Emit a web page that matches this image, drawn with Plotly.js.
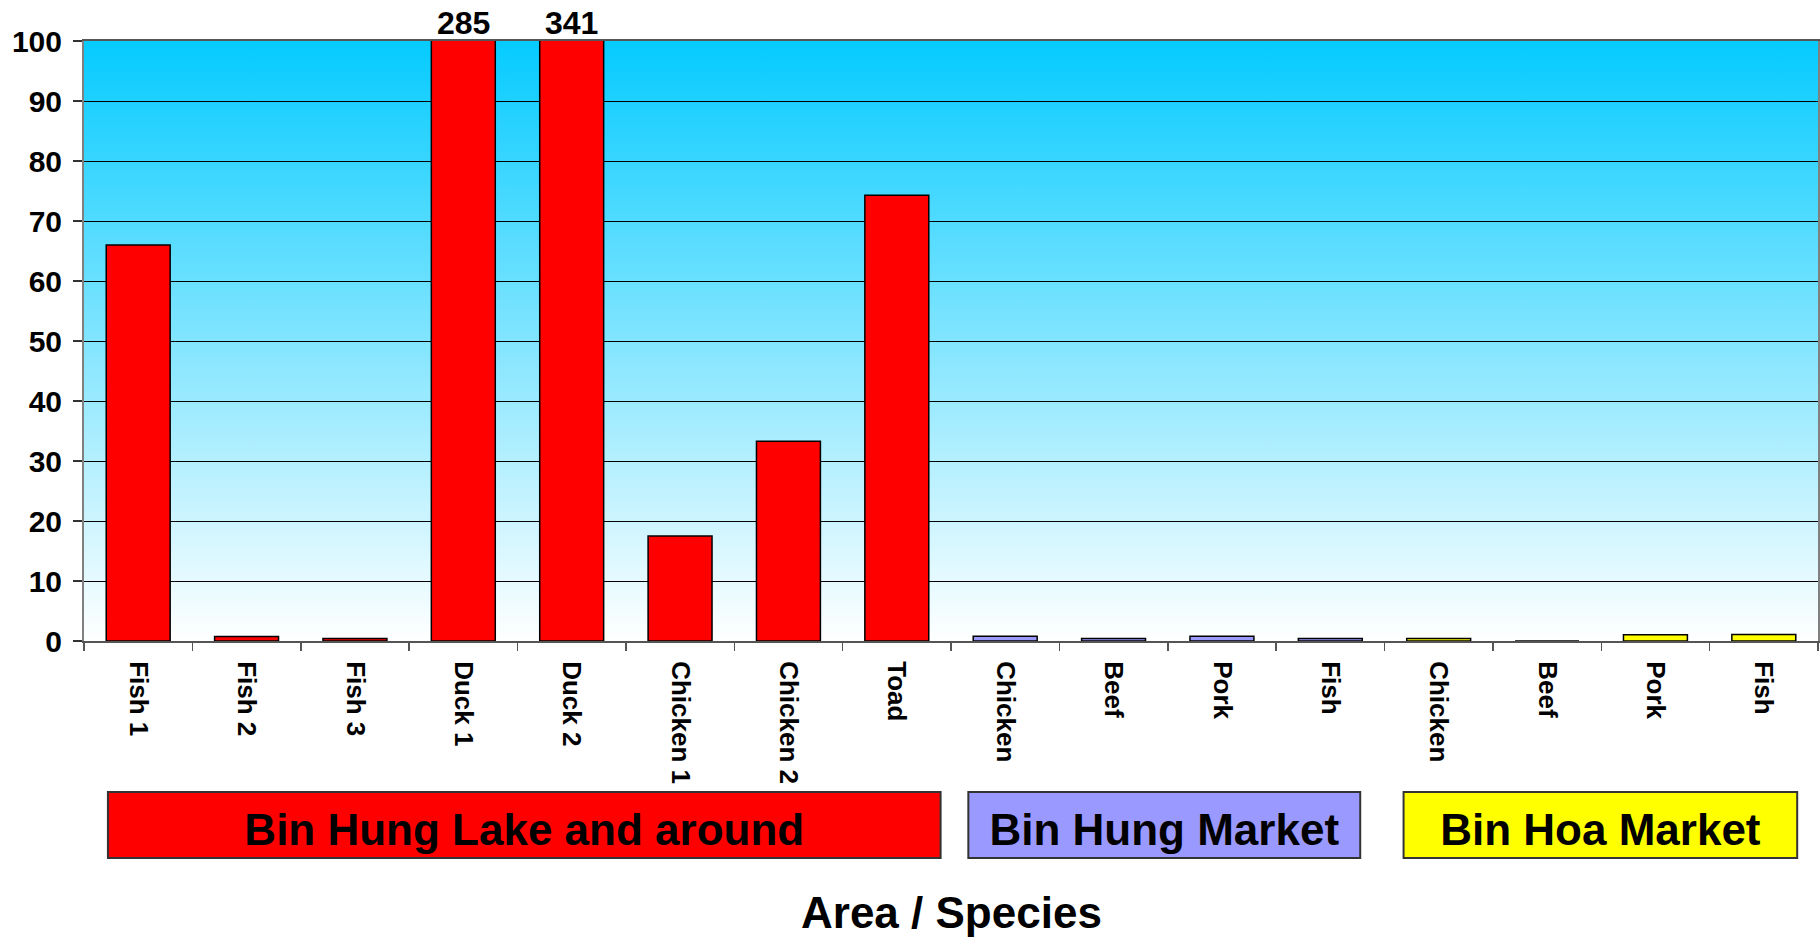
<!DOCTYPE html>
<html>
<head>
<meta charset="utf-8">
<script src="https://cdn.plot.ly/plotly-3.0.1.min.js"></script>
<style>
  html, body { margin: 0; padding: 0; background: #ffffff; }
  #chart { width: 1820px; height: 941px; }
</style>
</head>
<body>
<div id="chart"></div>
<script>
// ---- data ----
const groupNames = ["Bin Hung Lake and around", "Bin Hung Market", "Bin Hoa Market"];
const groupColors = ["#FF0000", "#9999FF", "#FFFF00"];

const lakeLabels = ["Fish 1", "Fish 2", "Fish 3", "Duck 1", "Duck 2", "Chicken 1", "Chicken 2", "Toad"];
const lakeValues = [66, 0.75, 0.4, 285, 341, 17.5, 33.3, 74.3];

const hungMarketLabels = ["Chicken", "Beef", "Pork", "Fish"];
const hungMarketValues = [0.8, 0.4, 0.8, 0.4];

const hoaMarketLabels = ["Chicken", "Beef", "Pork", "Fish"];
const hoaMarketValues = [0.4, 0, 1.05, 1.1];

const yTickVals = [0, 10, 20, 30, 40, 50, 60, 70, 80, 90, 100];
const yMax = 100;

// ---- build ----
const groups = [
  {labels: lakeLabels, values: lakeValues},
  {labels: hungMarketLabels, values: hungMarketValues},
  {labels: hoaMarketLabels, values: hoaMarketValues}
];

const FONT = "Liberation Sans, Arial, Helvetica, sans-serif";
const traces = [];
const allLabels = [];
const tickIdx = [];
const annotations = [];
let offset = 0;
groups.forEach((g, gi) => {
  const xs = g.labels.map((_, i) => offset + i);
  xs.forEach((x, i) => { tickIdx.push(x); allLabels.push(g.labels[i]); });
  traces.push({
    type: "bar",
    x: xs,
    y: g.values,
    name: groupNames[gi],
    width: 0.59,
    marker: {color: groupColors[gi], line: {color: "#000000", width: 1.5}},
    cliponaxis: true,
    hoverinfo: "x+y"
  });
  g.values.forEach((v, i) => {
    if (v > yMax) {
      annotations.push({
        x: xs[i], y: yMax, xref: "x", yref: "y",
        text: String(v), showarrow: false, yanchor: "bottom", yshift: -2,
        font: {family: FONT, size: 32, color: "#000", weight: "bold"}
      });
    }
  });
  offset += g.labels.length;
});

const nCat = offset;
const boundaries = [];
for (let i = 0; i <= nCat; i++) boundaries.push(i - 0.5);

// group boxes (paper coords)
const boxX = [[0.0138, 0.494], [0.510, 0.736], [0.761, 0.988]];
const shapes = groupNames.map((name, gi) => ({
  type: "rect", xref: "paper", yref: "paper",
  x0: boxX[gi][0], x1: boxX[gi][1], y0: -0.3617, y1: -0.2517,
  fillcolor: groupColors[gi],
  line: {color: "#333333", width: 2},
  label: {text: name, textposition: "middle center",
          font: {family: FONT, size: 44, color: "#000", weight: "bold"}}
}));

annotations.push({
  xref: "paper", yref: "paper", x: 0.5, y: -0.452,
  text: "Area / Species", showarrow: false, yanchor: "middle",
  font: {family: FONT, size: 44, color: "#000", weight: "bold"}
});

const gradSvg = '<svg xmlns="http://www.w3.org/2000/svg" width="10" height="100" preserveAspectRatio="none">' +
  '<defs><linearGradient id="g" x1="0" y1="0" x2="0" y2="1">' +
  '<stop offset="0" stop-color="#05CBFF"/><stop offset="1" stop-color="#FFFFFF"/>' +
  '</linearGradient></defs><rect width="10" height="100" fill="url(#g)"/></svg>';
const gradUri = "data:image/svg+xml;base64," + btoa(gradSvg);

const layout = {
  width: 1820, height: 941,
  margin: {l: 84, r: 2, t: 41, b: 300, pad: 0},
  paper_bgcolor: "#ffffff",
  plot_bgcolor: "rgba(0,0,0,0)",
  showlegend: false,
  barmode: "overlay",
  font: {family: FONT, color: "#000"},
  xaxis: {
    range: [-0.5, nCat - 0.5],
    tickmode: "array", tickvals: tickIdx, ticktext: allLabels,
    tickangle: 90,
    ticks: "",
    ticklabelstandoff: 13,
    tickfont: {family: FONT, size: 26, color: "#000", weight: "bold"},
    showgrid: false, zeroline: false,
    showline: true, linecolor: "#555555", linewidth: 2, mirror: true,
    minor: {tickmode: "array", tickvals: boundaries, ticks: "outside", ticklen: 8,
            tickcolor: "#555555", tickwidth: 1.5, showgrid: false},
    fixedrange: true
  },
  yaxis: {
    range: [0, yMax],
    tickmode: "array", tickvals: yTickVals,
    ticks: "outside", ticklen: 9, tickcolor: "#333333", tickwidth: 1.5,
    ticklabelstandoff: 5,
    tickfont: {family: FONT, size: 30, color: "#000", weight: "bold"},
    showgrid: true, gridcolor: "#000000", gridwidth: 1,
    zeroline: false,
    showline: true, linecolor: "#808080", linewidth: 2, mirror: true,
    fixedrange: true
  },
  images: [{
    source: gradUri, xref: "paper", yref: "paper",
    x: 0, y: 1, sizex: 1, sizey: 1, sizing: "stretch",
    xanchor: "left", yanchor: "top", layer: "below"
  }],
  shapes: shapes,
  annotations: annotations
};

Plotly.newPlot("chart", traces, layout, {displayModeBar: false, staticPlot: true});
</script>
</body>
</html>
